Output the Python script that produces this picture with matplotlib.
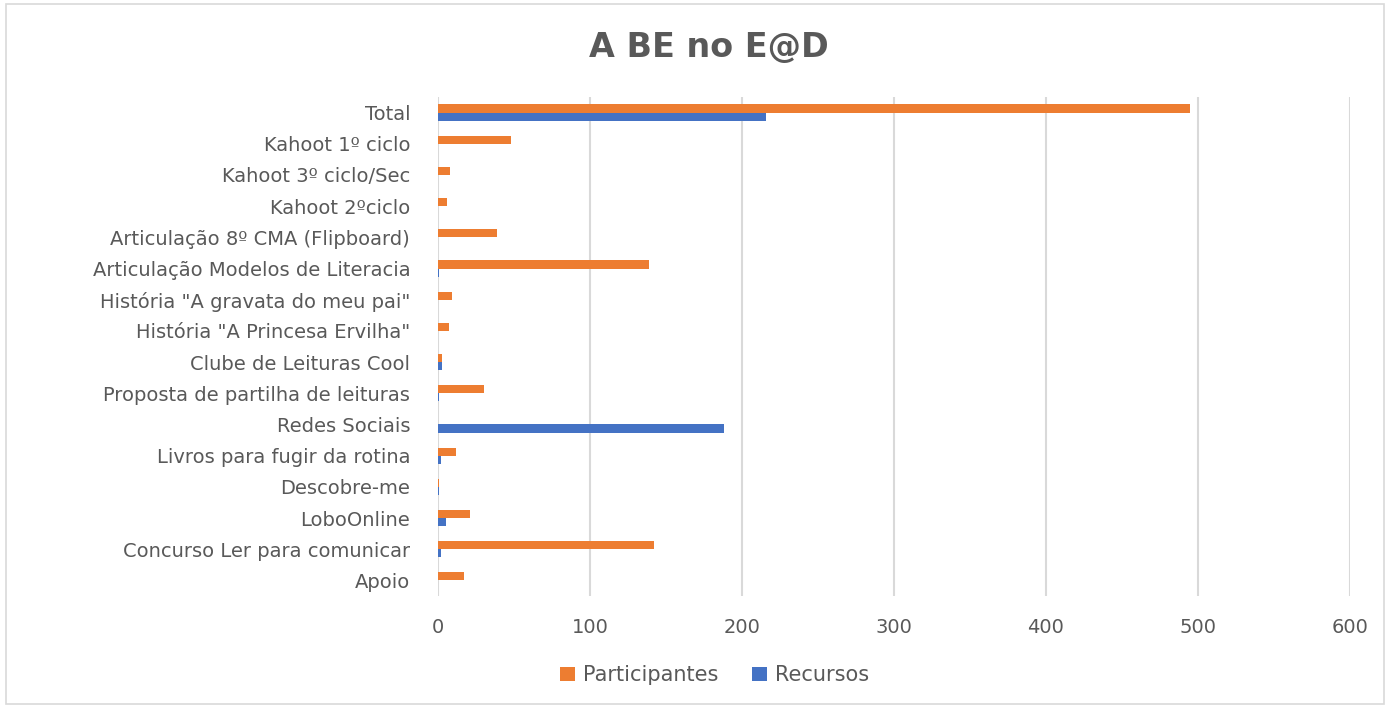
import matplotlib
matplotlib.use("Agg")
import matplotlib.pyplot as plt
import numpy as np
from matplotlib.patches import Rectangle

categories = ["Total", "Kahoot 1º ciclo", "Kahoot 3º ciclo/Sec", "Kahoot 2ºciclo",
              "Articulação 8º CMA (Flipboard)", "Articulação Modelos de Literacia",
              "História \"A gravata do meu pai\"", "História \"A Princesa Ervilha\"",
              "Clube de Leituras Cool", "Proposta de partilha de leituras",
              "Redes Sociais", "Livros para fugir da rotina", "Descobre-me",
              "LoboOnline", "Concurso Ler para comunicar", "Apoio"]
participantes = [495, 48, 8, 6, 39, 139, 9, 7, 3, 30, 0, 12, 1, 21, 142, 17]
recursos = [216, 0, 0, 0, 0, 1, 0, 0, 3, 1, 188, 2, 1, 5, 2, 0]
xticks = [0, 100, 200, 300, 400, 500, 600]

plt.rcParams['font.family'] = ['DejaVu Sans']
text_color = '#595959'
orange = '#ED7D31'
blue = '#4472C4'

fig = plt.figure(figsize=(13.85, 7.07), dpi=100)
fig.patches.append(Rectangle((0.004, 0.004), 0.995, 0.99, transform=fig.transFigure,
                             fill=False, edgecolor='#d9d9d9', linewidth=1.2))
ax = fig.add_axes([0.3162, 0.157, 0.6585, 0.7058])

y = np.arange(len(categories))
h = 0.26
ax.barh(y - h / 2, participantes, height=h, color=orange, label='Participantes')
ax.barh(y + h / 2, recursos, height=h, color=blue, label='Recursos')

ax.set_ylim(len(categories) - 0.5, -0.5)
ax.set_xlim(0, 600)
ax.set_xticks(xticks)
ax.set_yticks(y)
ax.set_yticklabels(categories)
ax.tick_params(axis='both', length=0, labelsize=14, labelcolor=text_color)
ax.tick_params(axis='x', pad=16)
ax.tick_params(axis='y', pad=20)
ax.grid(axis='x', color='#d9d9d9', linewidth=1.5)
ax.set_axisbelow(True)
for s in ax.spines.values():
    s.set_visible(False)

fig.text(0.512, 0.933, "A BE no E@D", ha='center', va='center', fontsize=24,
         fontweight='bold', color=text_color)

leg = fig.legend(loc='center', bbox_to_anchor=(0.516, 0.045), ncol=2, frameon=False,
                 fontsize=15, handlelength=0.7, handleheight=0.7, columnspacing=1.6,
                 handletextpad=0.4)
for t in leg.get_texts():
    t.set_color(text_color)

fig.savefig("out.png", dpi=100)
